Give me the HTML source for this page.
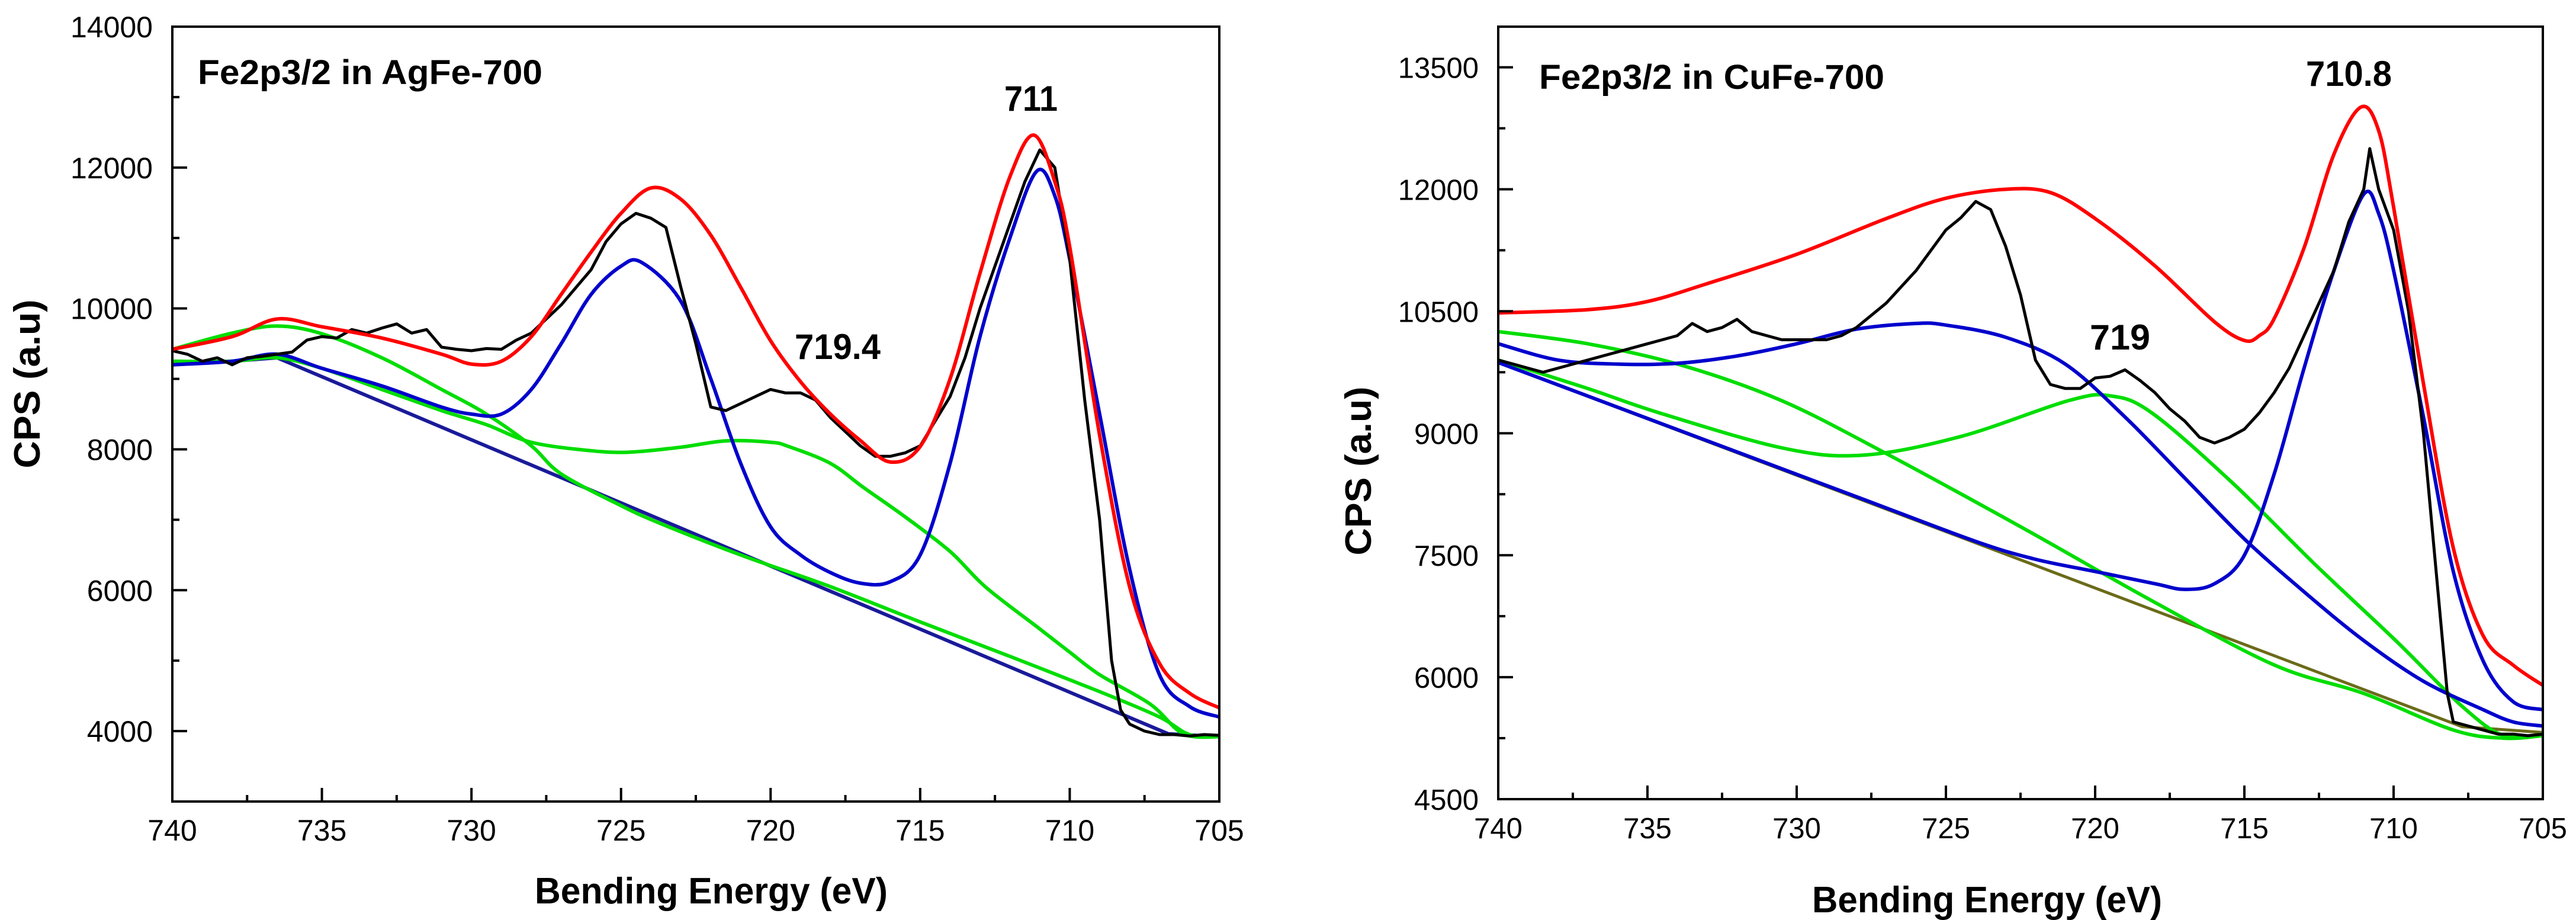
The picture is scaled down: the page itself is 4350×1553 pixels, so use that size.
<!DOCTYPE html>
<html><head><meta charset="utf-8"><style>
html,body{margin:0;padding:0;background:#fff;}
svg{display:block;}
text{font-family:"Liberation Sans",Arial,sans-serif;fill:#000;}
</style></head><body>
<svg id="svg" width="4350" height="1553" viewBox="0 0 4350 1553" xmlns="http://www.w3.org/2000/svg">
<g id="chartA"></g>
<g id="chartB"></g>
</svg>
<script>
// ---------- Chart A: Fe2p3/2 in AgFe-700 ----------
const aXTicks = [740,735,730,725,720,715,710,705];
const aYTicks = [4000,6000,8000,10000,12000,14000];
const aBlackE = [740,739.5,739,738.5,738,737.5,737,736.5,736,735.5,735,734.5,734,733.5,733,732.5,732,731.5,731,730.5,730,729.5,729,728.5,728,727.5,727,726.5,726,725.5,725,724.5,724,723.5,723,722.5,722,721.5,721,720.5,720,719.5,719,718.5,718,717.5,717,716.5,716,715.5,715,714.5,714,713.5,713,712.5,712,711.5,711,710.5,710,709.5,709,708.8,708.6,708.3,708,707.5,707,706.5,706,705.5,705];
const aBlackV = [9400,9350,9250,9300,9200,9300,9320,9350,9380,9550,9600,9580,9700,9650,9720,9780,9650,9700,9450,9420,9400,9430,9420,9550,9650,9850,10050,10300,10550,10950,11200,11350,11280,11150,10300,9500,8600,8550,8650,8750,8850,8800,8800,8700,8450,8250,8050,7900,7900,7950,8050,8400,8750,9300,10000,10600,11200,11800,12250,12000,10700,8700,7000,6000,5000,4300,4100,4000,3950,3950,3930,3950,3940];
const aRedE = [740,738,736.5,735,733,731,730,729,728,727,726,725,724,723,722,721,720,719,718,717,716,715,714,713,712,711.2,710.5,710,709,708,707,706,705];
const aRedV = [9420,9600,9850,9740,9580,9350,9210,9250,9600,10200,10800,11350,11710,11550,11040,10300,9540,8960,8500,8125,7820,8040,9000,10500,11870,12460,11800,10875,8200,6050,4960,4540,4330];
const aBlueE = [740,738,736.5,735,733,731,730,729,728,727,726,725,724.3,723,722,721,720,719,718,717,716,715,714,713,712,711.1,710.5,710,709,708,707,706,705];
const aBlueV = [9200,9250,9350,9150,8900,8600,8500,8500,8850,9500,10200,10600,10650,10100,9000,7800,6900,6500,6250,6100,6120,6500,7800,9600,11000,11950,11600,10700,8500,6300,4800,4350,4200];
const aGreen1E = [740,738,736.5,735,733,731,729.5,728,727,725,723.7,721,718,715,712,709,707,706,705];
const aGreen1V = [9420,9650,9750,9640,9300,8850,8500,8050,7650,7200,6950,6500,6050,5550,5060,4560,4200,3950,3920];
const aGreen2E = [740,738,736.5,735,733,731,729.5,728,726,724.7,723,721.5,720,719.4,718,716.9,715.5,714,712.8,711,710,709,707.3,706.2,705];
const aGreen2V = [9250,9250,9300,9150,8850,8550,8350,8100,7980,7960,8030,8120,8100,8040,7800,7460,7040,6550,6040,5450,5120,4800,4380,3960,3920];
const aBaseE = [740,738,736.5,706.7,705];
const aBaseV = [9200,9250,9300,3960,3920];

// ---------- Chart B: Fe2p3/2 in CuFe-700 ----------
const bXTicks = [740,735,730,725,720,715,710,705];
const bYTicks = [4500,6000,7500,9000,10500,12000,13500];
const bBlackE = [740,739.5,739,738.5,738,737.5,737,736.5,736,735.5,735,734.5,734,733.5,733,732.5,732,731.5,731,730.5,730,729.5,729,728.5,728,727.5,727,726.5,726,725.5,725,724.5,724,723.5,723,722.5,722,721.5,721,720.5,720,719.5,719,718.5,718,717.5,717,716.5,716,715.5,715,714.5,714,713.5,713,712.5,712,711.5,711,710.8,710.5,710,709.5,709,708.5,708.2,708,707.5,707,706.5,706,705.5,705];
const bBlackV = [9900,9850,9800,9750,9800,9850,9900,9950,10000,10050,10100,10150,10200,10350,10250,10300,10400,10250,10200,10150,10150,10150,10150,10200,10300,10450,10600,10800,11000,11250,11500,11650,11850,11750,11300,10700,9900,9600,9550,9550,9680,9700,9780,9650,9500,9300,9150,8950,8880,8950,9050,9250,9500,9800,10200,10600,11000,11600,12000,12500,12000,11500,10500,9000,7000,5800,5450,5400,5350,5300,5300,5280,5300];
const bRedE = [740,737,735,733,730,727,725,723,721.5,720,718,716,715,714.5,714,713,712,711.1,710.5,710,709,708,707,706,705];
const bRedV = [10480,10520,10620,10840,11200,11640,11890,12000,11960,11640,11060,10370,10140,10200,10410,11280,12430,13010,12720,11780,9610,7590,6510,6150,5900];
const bBlue1E = [740,738,736,734,732,730,728,726,725,723,721,719,717,715,713,711,709,707,706,705];
const bBlue1V = [10100,9900,9850,9860,9950,10100,10280,10350,10330,10180,9850,9200,8450,7700,7050,6450,5950,5600,5450,5400];
const bBlue2E = [740,736,732,728,724,722,720,718,717,716,715,714,713,712,711,710.5,710,709,708,707,706,705];
const bBlue2V = [9870,9320,8770,8220,7670,7450,7300,7150,7080,7150,7500,8500,9800,11000,11940,11700,11000,9200,7300,6200,5700,5600];
const bGreen1E = [740,737,733.8,730.5,727,722.3,718.1,714,711,708,706.3,705];
const bGreen1V = [10250,10100,9830,9400,8750,7810,6940,6150,5800,5350,5250,5280];
const bGreen2E = [740,737,734.6,730.5,727.8,724.5,720.9,719.5,718.1,715.4,712.6,709.9,707.7,706.3,705];
const bGreen2V = [9900,9550,9250,8820,8730,8960,9400,9460,9250,8390,7375,6440,5640,5280,5300];
const bBaseE = [740,707.7,705];
const bBaseV = [9870,5390,5320];

const NS = 'http://www.w3.org/2000/svg';
function mk(tag, attrs, parent) {
  const el = document.createElementNS(NS, tag);
  for (const k in attrs) el.setAttribute(k, attrs[k]);
  parent.appendChild(el);
  return el;
}
function smoothPath(pts) {
  let d = 'M' + pts[0][0].toFixed(1) + ' ' + pts[0][1].toFixed(1);
  for (let i = 0; i < pts.length - 1; i++) {
    const p0 = pts[Math.max(0, i - 1)], p1 = pts[i], p2 = pts[i + 1], p3 = pts[Math.min(pts.length - 1, i + 2)];
    const c1x = p1[0] + (p2[0] - p0[0]) / 6, c1y = p1[1] + (p2[1] - p0[1]) / 6;
    const c2x = p2[0] - (p3[0] - p1[0]) / 6, c2y = p2[1] - (p3[1] - p1[1]) / 6;
    d += ' C' + c1x.toFixed(1) + ' ' + c1y.toFixed(1) + ' ' + c2x.toFixed(1) + ' ' + c2y.toFixed(1) + ' ' + p2[0].toFixed(1) + ' ' + p2[1].toFixed(1);
  }
  return d;
}
function linePath(pts) {
  return 'M' + pts.map(p => p[0].toFixed(1) + ' ' + p[1].toFixed(1)).join(' L');
}

function drawChart(g, cfg) {
  const sx = e => cfg.L + (cfg.xMax - e) / (cfg.xMax - cfg.xMin) * (cfg.R - cfg.L);
  const sy = v => cfg.B - (v - cfg.yMin) / (cfg.yMax - cfg.yMin) * (cfg.B - cfg.T);
  const clip = mk('clipPath', {id: cfg.id + 'clip'}, g);
  mk('rect', {x: cfg.L, y: cfg.T, width: cfg.R - cfg.L, height: cfg.B - cfg.T}, clip);
  const plot = mk('g', {'clip-path': 'url(#' + cfg.id + 'clip)'}, g);
  
  
  cfg.series.forEach(s => {
    const pts = s.e.map((e, i) => [sx(e), sy(s.v[i])]);
    const p = mk('path', {d: s.smooth ? smoothPath(pts) : linePath(pts), fill: 'none', stroke: s.color, 'stroke-width': s.w, 'stroke-linejoin': 'round'}, plot);
    
    
  });
  const frame = mk('rect', {x: cfg.L, y: cfg.T, width: cfg.R - cfg.L, height: cfg.B - cfg.T, fill: 'none', stroke: '#000', 'stroke-width': 4}, g);
  
  
  // x ticks
  const xt = cfg.xTicks;
  for (let i = 0; i < xt.length; i++) {
    const x = sx(xt[i]);
    mk('line', {x1: x, x2: x, y1: cfg.B, y2: cfg.B - 23, stroke: '#000', 'stroke-width': 4}, g);
    const t = mk('text', {x: x, y: cfg.xLabY, 'font-size': cfg.tickFs, 'text-anchor': 'middle'}, g);
    t.textContent = xt[i];
    
    
    if (i < xt.length - 1) {
      const xm = sx((xt[i] + xt[i + 1]) / 2);
      mk('line', {x1: xm, x2: xm, y1: cfg.B, y2: cfg.B - 11, stroke: '#000', 'stroke-width': 4}, g);
    }
  }
  // y ticks
  const yt = cfg.yTicks;
  for (let i = 0; i < yt.length; i++) {
    const y = sy(yt[i]);
    mk('line', {x1: cfg.L, x2: cfg.L + 25, y1: y, y2: y, stroke: '#000', 'stroke-width': 4}, g);
    const t = mk('text', {x: cfg.yLabX, y: y + 18, 'font-size': cfg.tickFs, 'text-anchor': 'end'}, g);
    t.textContent = yt[i];
    
    
    const step = yt[1] - yt[0];
    [yt[i] - step / 2, yt[i] + step / 2].forEach(m => {
      if (m > cfg.yMin && m < cfg.yMax && (i === 0 || m > yt[i])) {
        const ym = sy(m);
        mk('line', {x1: cfg.L, x2: cfg.L + 12, y1: ym, y2: ym, stroke: '#000', 'stroke-width': 4}, g);
      }
    });
  }
  cfg.texts.forEach(tx => {
    const t = mk('text', {x: tx.x, y: tx.y, 'font-size': tx.fs, 'font-weight': 'bold'}, g);
    if (tx.len) { t.setAttribute('textLength', tx.len); t.setAttribute('lengthAdjust', 'spacingAndGlyphs'); }
    if (tx.rot) t.setAttribute('transform', 'rotate(-90 ' + tx.x + ' ' + tx.y + ')');
    if (tx.anchor) t.setAttribute('text-anchor', tx.anchor);
    t.textContent = tx.s;
    
    
  });
}

drawChart(document.getElementById('chartA'), {
  id: 'a', L: 291, R: 2059, T: 45, B: 1353, xMin: 705, xMax: 740, yMin: 3000, yMax: 14000,
  xTicks: aXTicks, yTicks: aYTicks, xLabY: 1419, yLabX: 258, tickFs: 50,
  series: [
    {name: 'baseline', e: aBaseE, v: aBaseV, color: '#1a1a9a', w: 6, smooth: false},
    {name: 'green-component-1', e: aGreen1E, v: aGreen1V, color: '#00dd00', w: 6, smooth: true},
    {name: 'green-component-2', e: aGreen2E, v: aGreen2V, color: '#00dd00', w: 6, smooth: true},
    {name: 'blue-component', e: aBlueE, v: aBlueV, color: '#0000cc', w: 6, smooth: true},
    {name: 'black-raw-data', e: aBlackE, v: aBlackV, color: '#000', w: 5, smooth: false},
    {name: 'red-envelope', e: aRedE, v: aRedV, color: '#ff0000', w: 6, smooth: true}
  ],
  texts: [
    {s: 'Fe2p3/2 in AgFe-700', x: 334, y: 142, fs: 58, len: 582, name: 'panel-title'},
    {s: '711', x: 1696, y: 187, fs: 60, len: 90, name: 'peak-label-711'},
    {s: '719.4', x: 1342, y: 606, fs: 60, len: 145, name: 'peak-label-719-4'},
    {s: 'Bending Energy (eV)', x: 903, y: 1525, fs: 62, len: 596, name: 'x-axis-title'},
    {s: 'CPS (a.u)', x: 67, y: 648, fs: 62, len: 285, rot: true, anchor: 'middle', name: 'y-axis-title'}
  ]
});

drawChart(document.getElementById('chartB'), {
  id: 'b', L: 2530, R: 4294, T: 45, B: 1349, xMin: 705, xMax: 740, yMin: 4500, yMax: 14000,
  xTicks: bXTicks, yTicks: bYTicks, xLabY: 1415, yLabX: 2497, tickFs: 49,
  series: [
    {name: 'baseline', e: bBaseE, v: bBaseV, color: '#6b6b1a', w: 5, smooth: false},
    {name: 'green-component-1', e: bGreen1E, v: bGreen1V, color: '#00dd00', w: 6, smooth: true},
    {name: 'green-component-2', e: bGreen2E, v: bGreen2V, color: '#00dd00', w: 6, smooth: true},
    {name: 'blue-component-broad', e: bBlue1E, v: bBlue1V, color: '#0000cc', w: 6, smooth: true},
    {name: 'blue-component-main', e: bBlue2E, v: bBlue2V, color: '#0000cc', w: 6, smooth: true},
    {name: 'black-raw-data', e: bBlackE, v: bBlackV, color: '#000', w: 5, smooth: false},
    {name: 'red-envelope', e: bRedE, v: bRedV, color: '#ff0000', w: 6, smooth: true}
  ],
  texts: [
    {s: 'Fe2p3/2 in CuFe-700', x: 2599, y: 150, fs: 58, len: 583, name: 'panel-title'},
    {s: '710.8', x: 3894, y: 145, fs: 60, len: 145, name: 'peak-label-710-8'},
    {s: '719', x: 3529, y: 590, fs: 60, len: 102, name: 'peak-label-719'},
    {s: 'Bending Energy (eV)', x: 3060, y: 1540, fs: 62, len: 591, name: 'x-axis-title'},
    {s: 'CPS (a.u)', x: 2315, y: 795, fs: 62, len: 285, rot: true, anchor: 'middle', name: 'y-axis-title'}
  ]
});
</script>
</body></html>
